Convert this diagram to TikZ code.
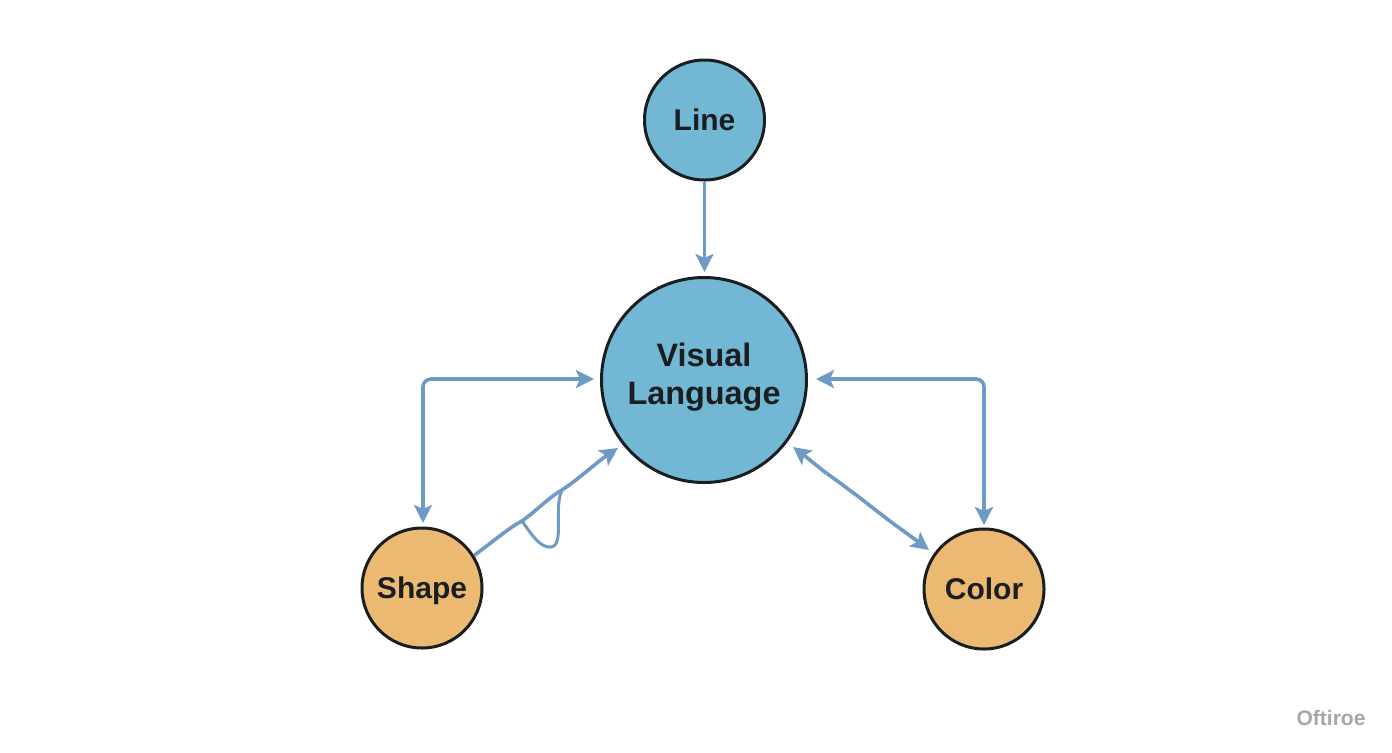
\documentclass[tikz,border=0pt]{standalone}
\usepackage{fontspec}
\setmainfont{Liberation Sans}
\usetikzlibrary{arrows.meta,decorations.pathmorphing}
\definecolor{bluefill}{HTML}{72B8D5}
\definecolor{orangefill}{HTML}{EBB971}
\definecolor{linkblue}{HTML}{6E9AC6}
\definecolor{ringblack}{HTML}{1B1E20}
\begin{document}
\begin{tikzpicture}[x=0.5pt,y=-0.5pt,
  every node/.style = {align=center, text=ringblack, font=\fontsize{15}{19}\selectfont\bfseries},
  concept/.style = {shape=circle, draw=ringblack, line width=1.5pt, inner sep=0pt},
  hub/.style = {concept, fill=bluefill, minimum size=102.5pt, text depth=6pt,
    font=\fontsize{16.2}{19}\selectfont\bfseries},
  topic/.style = {concept, fill=bluefill, minimum size=60pt},
  leaf/.style = {concept, fill=orangefill, minimum size=60pt, text depth=0pt},
  wobble/.style = {decorate, decoration={random steps, segment length=11pt, amplitude=0.45pt,
    pre length=8pt, post length=10pt}},
  link/.style = {draw=linkblue, line width=1.8pt,
    arrows={-Stealth[length=9pt,width=9pt,inset=2pt]}},
  biglink/.style = {link, arrows={Stealth[length=9pt,width=9pt,inset=2pt]-Stealth[length=9pt,width=9pt,inset=2pt]}}]
  \useasboundingbox (0,0) rectangle (1392,752);
  \node[topic] (line) at (704.5,120) {Line};
  \node[hub] (visual) at (704,380) {Visual\\Language};
  \node[leaf] (shape) at (422,588) {Shape};
  \node[leaf] (color) at (984,589) {Color};

  \coordinate (shapein) at (423,523);
  \coordinate (shapecorner) at (423,379);
  \coordinate (visualleft) at (594,379);
  \coordinate (colorin) at (984,525);
  \coordinate (colorcorner) at (984,379);
  \coordinate (visualright) at (816,379);
  \coordinate (visualdiag) at (793,447);
  \coordinate (colordiag) at (929,550);
  \coordinate (visualshape) at (618,448);
  \coordinate (visualtop) at (704.5,272);
  \coordinate (looptop) at (522,521);
  \coordinate (loopend) at (562,490);

  \draw[link] (line) -- (visualtop);
  \draw[biglink, rounded corners=4pt] (shapein) -- (shapecorner) -- (visualleft);
  \draw[biglink, rounded corners=4pt] (colorin) -- (colorcorner) -- (visualright);
  \draw[biglink, wobble] (visualdiag) -- (colordiag);
  \draw[link] (shape.32) .. controls (495,540) and (510,527) .. (looptop)
    .. controls (535,512) and (548,498) .. (loopend)
    .. controls (580,478) and (597,462) .. (visualshape);
  \draw[draw=linkblue, line width=1.5pt] (looptop) .. controls (532,535) and (540,548) .. (551,547)
    .. controls (565,545) and (553,510) .. (loopend);
  \node[text=gray!70, font=\fontsize{10.5}{12}\selectfont\bfseries] (mark) at (1331,718) {Oftiroe};
\end{tikzpicture}
\end{document}
